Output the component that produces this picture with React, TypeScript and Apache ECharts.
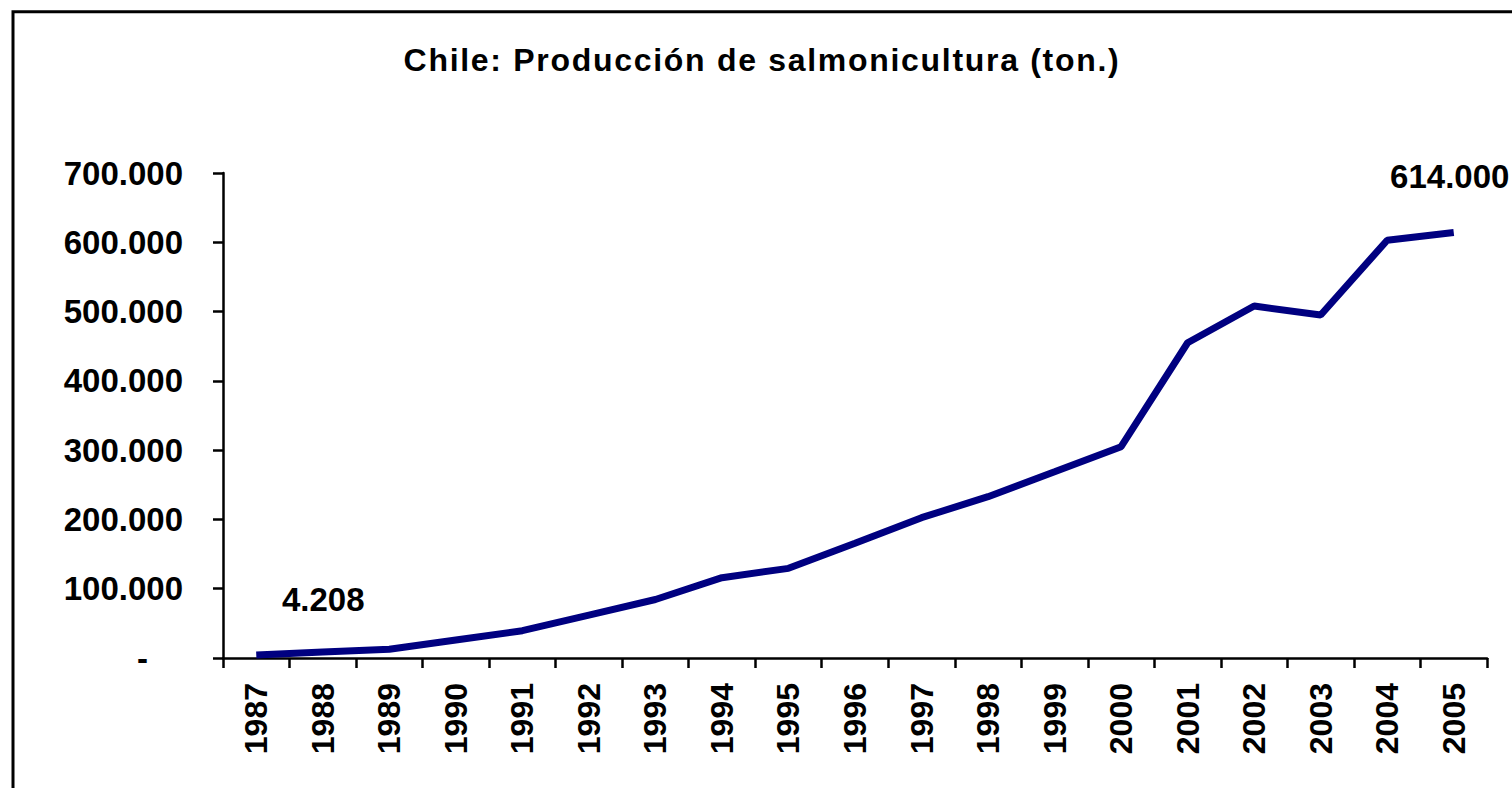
import React, { useEffect, useRef } from "react";
import * as echarts from "echarts";

const years = ["1987","1988","1989","1990","1991","1992","1993","1994","1995","1996","1997","1998","1999","2000","2001","2002","2003","2004","2005"];
const production = [4208, 8700, 12500, 26000, 39400, 62000, 84400, 115900, 129400, 165500, 202500, 232800, 268800, 305000, 455000, 508000, 495000, 603000, 614000];
const yTicks = [0, 100000, 200000, 300000, 400000, 500000, 600000, 700000];
const titleText = "Chile: Producción de salmonicultura (ton.)";

const FONT = "'Liberation Sans', Arial, sans-serif";

function fmt(v: number): string {
  return String(Math.round(v)).replace(/\B(?=(\d{3})+(?!\d))/g, ".");
}

export default function App() {
  const ref = useRef<HTMLDivElement>(null);
  useEffect(() => {
    if (!ref.current) return;
    const chart = echarts.init(ref.current, null, { renderer: "svg" });
    const lastIdx = production.length - 1;
    const data = production.map((v, i) => {
      if (i === 0) {
        return { value: v, label: { show: true, position: "inside", offset: [67, -56] } };
      }
      if (i === lastIdx) {
        return { value: v, label: { show: true, position: "inside", offset: [-4, -56] } };
      }
      return { value: v };
    });
    chart.setOption({
      animation: false,
      backgroundColor: "#ffffff",
      grid: { left: 223, right: 25, top: 173, bottom: 130, containLabel: false },
      graphic: [
        {
          type: "rect",
          shape: { x: 13, y: 11.8, width: 1600, height: 900 },
          style: { fill: "none", stroke: "#000000", lineWidth: 3 },
          silent: true,
        },
        {
          type: "text",
          id: "title",
          style: {
            x: 762,
            y: 60,
            text: titleText,
            align: "center",
            verticalAlign: "middle",
            fontSize: 32,
            fontWeight: "bold",
            fontFamily: FONT,
            fill: "#000000",
          },
          silent: true,
        },
      ],
      xAxis: {
        type: "category",
        data: years,
        boundaryGap: true,
        axisLine: { lineStyle: { color: "#000000", width: 2.5 } },
        axisTick: { show: true, length: 10, lineStyle: { color: "#000000", width: 2.5 }, alignWithLabel: false },
        axisLabel: {
          rotate: 90,
          margin: 25,
          interval: 0,
          color: "#000000",
          fontSize: 32,
          fontWeight: "bold",
          fontFamily: FONT,
        },
        splitLine: { show: false },
      },
      yAxis: {
        type: "value",
        min: yTicks[0],
        max: yTicks[yTicks.length - 1],
        interval: yTicks[1] - yTicks[0],
        axisLine: { show: true, lineStyle: { color: "#000000", width: 2.5 } },
        axisTick: { show: true, length: 10, lineStyle: { color: "#000000", width: 2.5 } },
        splitLine: { show: false },
        axisLabel: {
          margin: 40,
          color: "#000000",
          fontSize: 33,
          fontWeight: "bold",
          fontFamily: FONT,
          formatter: (v: number) => (v === 0 ? "{z|-}" : fmt(v)),
          rich: {
            z: { fontSize: 33, fontWeight: "bold", fontFamily: FONT, color: "#000000", padding: [0, 35, 0, 0] },
          },
        },
      },
      series: [
        {
          type: "line",
          data,
          symbol: "circle",
          symbolSize: 0.1,
          showSymbol: true,
          itemStyle: { color: "#000080" },
          lineStyle: { color: "#000080", width: 7 },
          label: {
            show: false,
            color: "#000000",
            fontSize: 33,
            fontWeight: "bold",
            fontFamily: FONT,
            formatter: (p: any) => fmt(p.value),
          },
          emphasis: { disabled: true },
        },
      ],
    });
    const applySpacing = () => {
      const root = ref.current;
      if (!root) return;
      root.querySelectorAll("text").forEach((t) => {
        if ((t.textContent || "").startsWith("Chile")) {
          t.setAttribute("letter-spacing", "1.7");
        }
      });
    };
    applySpacing();
    chart.on("finished", applySpacing);
    return () => chart.dispose();
  }, []);
  return (
    <div
      ref={ref}
      style={{ position: "fixed", left: 0, top: 0, width: 1512, height: 788, background: "#fff" }}
    />
  );
}
